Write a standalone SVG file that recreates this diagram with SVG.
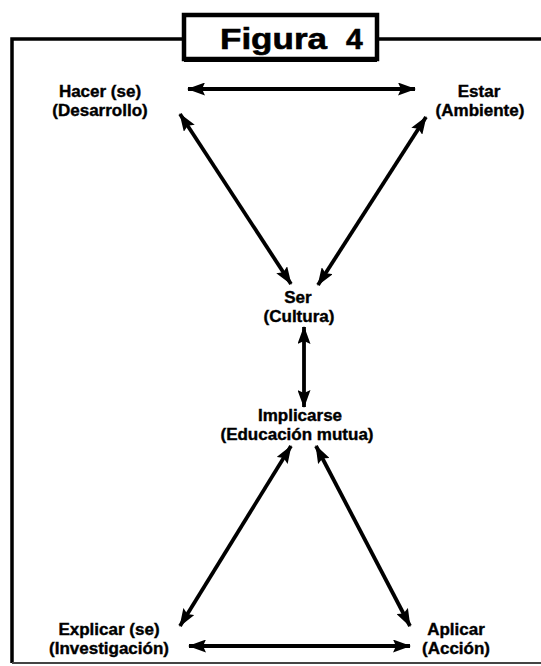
<svg xmlns="http://www.w3.org/2000/svg" width="541" height="666" viewBox="0 0 541 666">
<style>
.lbl{font-family:"Liberation Sans",Arial,sans-serif;font-weight:bold;font-size:17px;fill:#000;stroke:#000;stroke-width:0.4;text-anchor:middle}
.ttl{font-family:"Liberation Sans",Arial,sans-serif;font-weight:bold;font-size:30px;fill:#000;stroke:#000;stroke-width:0.6}
.frame{fill:none;stroke:#000;stroke-width:3.5}
.conn line{stroke:#000;stroke-width:3.8}
</style>
<defs>
<marker id="ah" viewBox="0 0 18 13" refX="17" refY="6.5" markerWidth="18" markerHeight="13" markerUnits="userSpaceOnUse" orient="auto-start-reverse">
<path d="M0,0 L18,6.5 L0,13 L3,6.5 Z" fill="#000"/>
</marker>
</defs>
<rect width="541" height="666" fill="#fff"/>
<g id="frame">
<path class="frame" d="M12,663 V39 H183 M378,39 H541"/>
<line x1="12" y1="663" x2="541" y2="663" stroke="#444" stroke-width="2"/>
</g>
<g id="title">
<rect x="184" y="15" width="193" height="44" fill="#fff" stroke="#000" stroke-width="4.5"/>
<rect x="184" y="57" width="193" height="5" fill="#000"/>
<text class="ttl" x="220" y="49" textLength="107" lengthAdjust="spacingAndGlyphs">Figura</text>
<text class="ttl" x="346" y="49">4</text>
</g>
<g id="hacer"><text class="lbl" x="100" y="97">Hacer (se)</text><text class="lbl" x="100" y="116">(Desarrollo)</text></g>
<g id="estar"><text class="lbl" x="479" y="97">Estar</text><text class="lbl" x="480" y="116">(Ambiente)</text></g>
<g id="ser"><text class="lbl" x="298" y="303">Ser</text><text class="lbl" x="299" y="322">(Cultura)</text></g>
<g id="implicarse"><text class="lbl" x="300" y="421">Implicarse</text><text class="lbl" x="297" y="440">(Educación mutua)</text></g>
<g id="explicar"><text class="lbl" x="109" y="635">Explicar (se)</text><text class="lbl" x="109" y="654">(Investigación)</text></g>
<g id="aplicar"><text class="lbl" x="456" y="635">Aplicar</text><text class="lbl" x="456" y="654">(Acción)</text></g>
<g id="connectors" class="conn">
<line x1="188" y1="89" x2="415" y2="89" marker-start="url(#ah)" marker-end="url(#ah)"/>
<line x1="180" y1="114" x2="291" y2="284" marker-start="url(#ah)" marker-end="url(#ah)"/>
<line x1="426" y1="117" x2="318" y2="285" marker-start="url(#ah)" marker-end="url(#ah)"/>
<line x1="304" y1="327" x2="304" y2="407" marker-start="url(#ah)" marker-end="url(#ah)"/>
<line x1="291" y1="446" x2="180" y2="626" marker-start="url(#ah)" marker-end="url(#ah)"/>
<line x1="316" y1="446" x2="410" y2="626" marker-start="url(#ah)" marker-end="url(#ah)"/>
<line x1="189" y1="646" x2="410" y2="646" marker-start="url(#ah)" marker-end="url(#ah)"/>
</g>
</svg>
